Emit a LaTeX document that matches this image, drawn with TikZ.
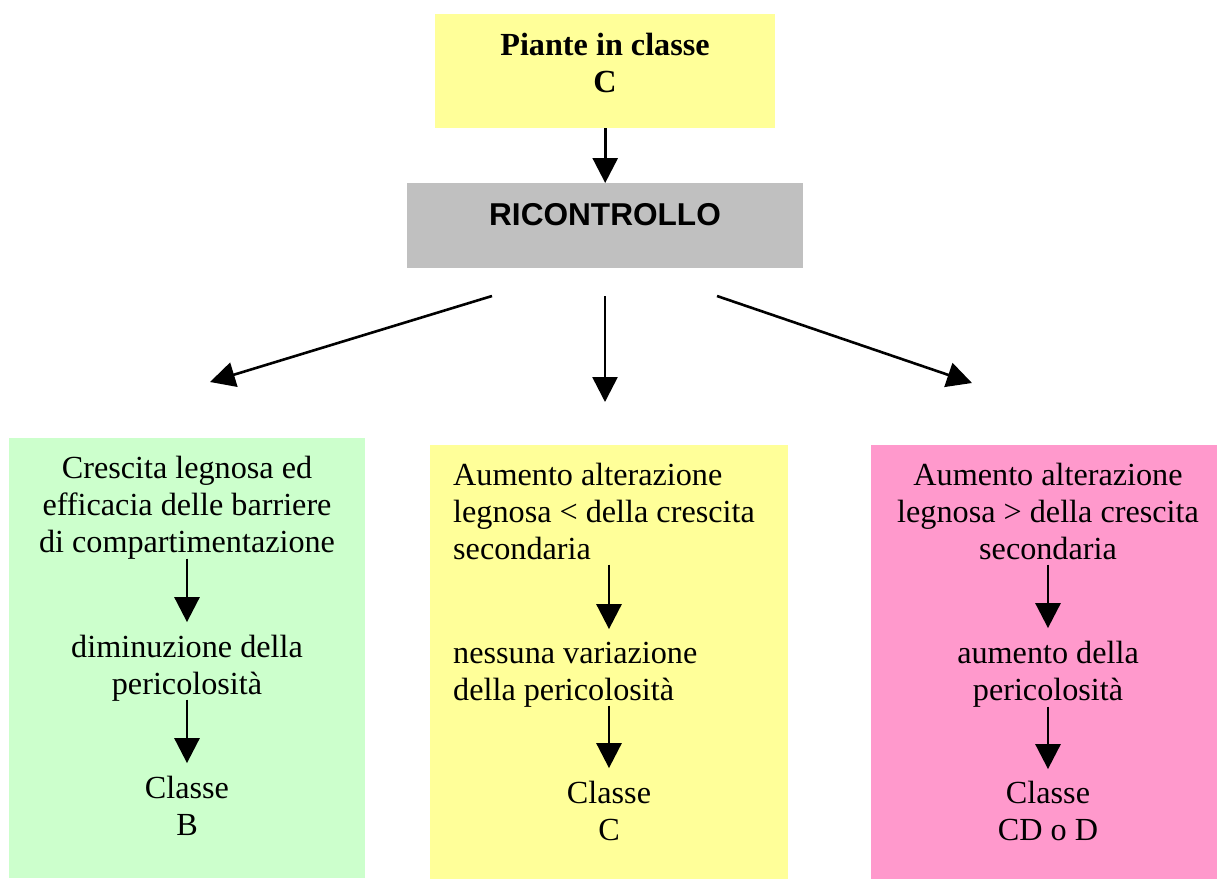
\documentclass[tikz,border=0pt]{standalone}
\usepackage{fontspec}
\setmainfont{Liberation Serif}
\newfontfamily\arialfont{Liberation Sans}
\usetikzlibrary{arrows.meta}
\definecolor{cyel}{HTML}{FFFF99}
\definecolor{cgray}{HTML}{C0C0C0}
\definecolor{cgreen}{HTML}{CCFFCC}
\definecolor{cpink}{HTML}{FF99CC}
\begin{document}
\begin{tikzpicture}[x=1pt,y=-1pt,
  panel/.style={draw=none, inner sep=0pt, anchor=north west},
  txt/.style={font=\fontsize{32.2}{37}\selectfont, inner sep=0pt, align=center, anchor=north},
  ltxt/.style={txt, align=left, anchor=north west},
  arr/.style={line width=2.8pt, -{Triangle[length=25pt,width=25pt]}}]
\useasboundingbox (0,0) rectangle (1217,879);
% panels
\node[panel, fill=cyel,  minimum width=340pt, minimum height=114pt] (topbox) at (435,14) {};
\node[panel, fill=cgray, minimum width=396pt, minimum height=85pt] (gray) at (407,183) {};
\node[panel, fill=cgreen, minimum width=356pt, minimum height=440pt] (green) at (9,438) {};
\node[panel, fill=cyel,  minimum width=358pt, minimum height=434pt] (mid) at (430,445) {};
\node[panel, fill=cpink, minimum width=346pt, minimum height=434pt] (pink) at (871,445) {};
% top texts
\node[txt, font=\fontsize{32.2}{37}\selectfont\bfseries] (toptxt) at (605,29.1) {\strut Piante in classe\\C\strut};
\node[inner sep=0pt, anchor=base, font=\arialfont\bfseries\fontsize{31.6}{37}\selectfont] (rictxt) at (605,225) {RICONTROLLO};
\draw[arr] (topbox.south) -- (gray.north);
% branch arrows
\coordinate (s1) at (492,296); \coordinate (e1) at (210,382);
\coordinate (s2) at (605,296); \coordinate (e2) at (605,402);
\coordinate (s3) at (717,296); \coordinate (e3) at (972,383);
\draw[arr, line width=2.6pt] (s1) -- (e1);
\draw[arr, line width=2.6pt] (s2) -- (e2);
\draw[arr, line width=2.6pt] (s3) -- (e3);
% green column
\node[txt] (g1) at (187,452.1) {\strut Crescita legnosa ed\\efficacia delle barriere\\di compartimentazione\strut};
\node[txt] (g2) at (187,631.1) {\strut diminuzione della\\pericolosità\strut};
\node[txt] (g3) at (187,772.1) {\strut Classe\\B\strut};
\draw[arr, shorten <=-5pt, shorten >=9pt] (g1.south) -- (g2.north);
\draw[arr, shorten <=-6pt, shorten >=9pt] (g2.south) -- (g3.north);
% middle column
\node[ltxt] (m1) at (453,459.1) {\strut Aumento alterazione\\legnosa < della crescita\\secondaria\strut};
\node[ltxt] (m2) at (453,637.1) {\strut nessuna variazione\\della pericolosità\strut};
\node[txt] (m3) at (609,777.1) {\strut Classe\\C\strut};
\draw[arr, shorten <=-6pt, shorten >=8pt] (m1.south -| m3.north) -- (m2.north -| m3.north);
\draw[arr, shorten <=-6pt, shorten >=9pt] (m2.south -| m3.north) -- (m3.north);
% pink column
\node[txt] (p1) at (1048,459.1) {\strut Aumento alterazione\\legnosa > della crescita\\secondaria\strut};
\node[txt] (p2) at (1048,637.1) {\strut aumento della\\pericolosità\strut};
\node[txt] (p3) at (1048,777.1) {\strut Classe\\CD o D\strut};
\draw[arr, shorten <=-6pt, shorten >=9pt] (p1.south) -- (p2.north);
\draw[arr, shorten <=-5pt, shorten >=8pt] (p2.south) -- (p3.north);
\end{tikzpicture}
\end{document}
